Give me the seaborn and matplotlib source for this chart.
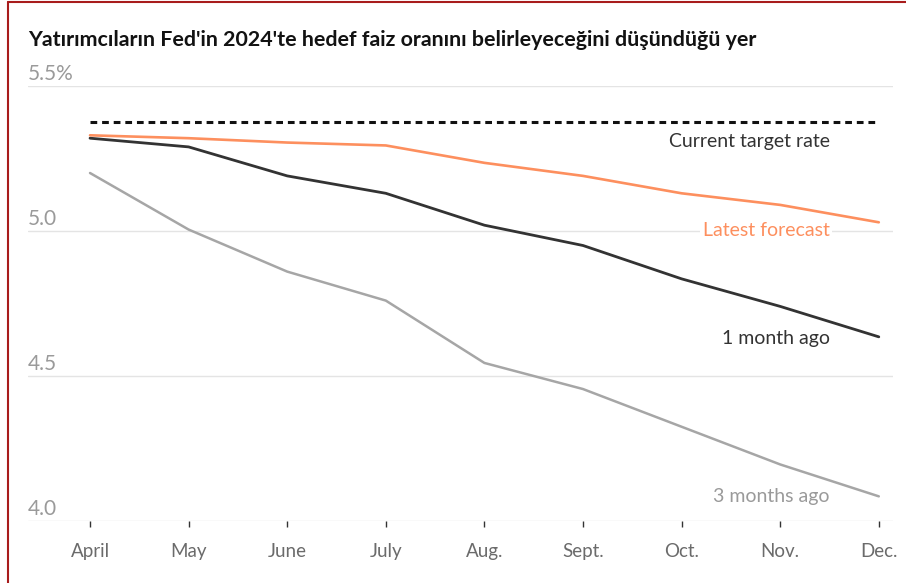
import pandas as pd
import seaborn as sns
import matplotlib.pyplot as plt
from matplotlib import transforms
from matplotlib.lines import Line2D

months = ["April", "May", "June", "July", "Aug.", "Sept.", "Oct.", "Nov.", "Dec."]
latest_forecast = [5.33, 5.32, 5.305, 5.295, 5.235, 5.19, 5.13, 5.09, 5.03]
one_month_ago = [5.32, 5.29, 5.19, 5.13, 5.02, 4.95, 4.835, 4.74, 4.635]
three_months_ago = [5.20, 5.005, 4.86, 4.76, 4.545, 4.455, 4.325, 4.195, 4.085]
current_target_rate = 5.375
y_ticks = [4.0, 4.5, 5.0, 5.5]
y_tick_labels = ["4.0", "4.5", "5.0", "5.5%"]
title = "Yatırımcıların Fed'in 2024'te hedef faiz oranını belirleyeceğini düşündüğü yer"

series_names = ["3 months ago", "1 month ago", "Latest forecast"]
colors = {"3 months ago": "#a6a6a6", "1 month ago": "#333333", "Latest forecast": "#fd8f5e"}
widths = {"3 months ago": 1.8, "1 month ago": 2.0, "Latest forecast": 1.9}

frames = []
for name, values in zip(series_names, [three_months_ago, one_month_ago, latest_forecast]):
    frames.append(pd.DataFrame({"pos": range(len(months)), "rate": values, "series": name}))
df = pd.concat(frames, ignore_index=True)

sns.set_theme(style="white")
plt.rcParams["font.family"] = ["Lato", "DejaVu Sans"]

fig = plt.figure(figsize=(9.06, 5.83), dpi=100)
ax = fig.add_axes([28 / 906, 62 / 583, 865 / 906, 435 / 583])

# gridlines first so the lines sit on top
for v in y_ticks:
    ax.axhline(v, color="#e4e4e4", lw=1.0, zorder=0)

ax.plot(range(len(months)), [current_target_rate] * len(months), color="#111111",
        lw=2.2, dashes=(2.2, 1.6), zorder=2)

sns.lineplot(data=df, x="pos", y="rate", hue="series", palette=colors,
             hue_order=series_names, legend=False, ax=ax, zorder=3)
for line, name in zip(ax.get_lines()[-3:], series_names):
    line.set_linewidth(widths[name])

ax.set_xlim(-0.629, 8.144)
ax.set_ylim(4.0, 5.5)
for s in ax.spines.values():
    s.set_visible(False)

ax.set_xticks(range(len(months)))
ax.set_xticklabels(months)
ax.tick_params(axis="x", bottom=True, length=4.5, width=1.0, color="#333333",
               pad=11, labelsize=13.5, labelcolor="#6b6b6b")
ax.set_yticks([])
ax.set_xlabel("")
ax.set_ylabel("")

trans = transforms.blended_transform_factory(ax.transAxes, ax.transData)
for v, lab in zip(y_ticks, y_tick_labels):
    ax.annotate(lab, xy=(0, v), xycoords=trans, xytext=(0, 1.5), textcoords="offset points",
                ha="left", va="bottom", fontsize=15, color="#9a9a9a")

label_x = 7.5
ax.text(label_x, 5.31, "Current target rate", ha="right", va="center",
        fontsize=14, color="#333333")
ax.text(label_x, 5.0, "Latest forecast", ha="right", va="center", fontsize=14,
        color="#fd8f5e", bbox=dict(facecolor="white", edgecolor="none", pad=1.5))
ax.text(label_x, 4.631, "1 month ago", ha="right", va="center", fontsize=14, color="#333333")
ax.text(label_x, 4.083, "3 months ago", ha="right", va="center", fontsize=14, color="#9a9a9a")

fig.text(28 / 906, 1 - 40 / 583, title, ha="left", va="center", fontsize=15.4,
         fontweight="bold", color="#121212")

# screenshot frame
fig.add_artist(Line2D([8 / 906, 8 / 906], [0, 1 - 2 / 583], transform=fig.transFigure,
                      color="#a81c1c", lw=1.5))
fig.add_artist(Line2D([8 / 906, 1], [1 - 2 / 583, 1 - 2 / 583], transform=fig.transFigure,
                      color="#a81c1c", lw=1.5))

fig.savefig("out.png", dpi=100)
